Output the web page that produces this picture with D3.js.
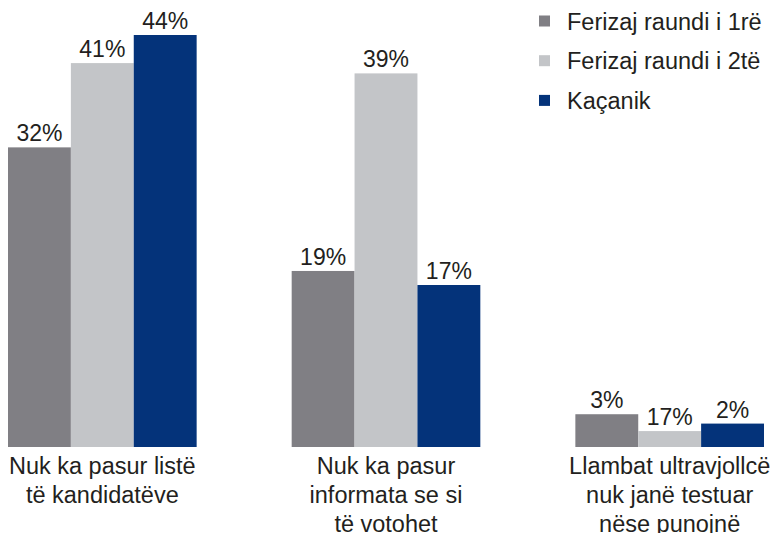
<!DOCTYPE html>
<html>
<head>
<meta charset="utf-8">
<script src="https://cdn.jsdelivr.net/npm/d3@7"></script>
<style>
  body { margin: 0; background: #fff; }
  text { font-family: "Liberation Sans", Arial, sans-serif; fill: #231f20; }
</style>
</head>
<body>
<div class="canvas"></div>
<script>
//DATA
var categories = [
    ['Nuk ka pasur listë', 'të kandidatëve'],
    ['Nuk ka pasur', 'informata se si', 'të votohet'],
    ['Llambat ultravjollcë', 'nuk janë testuar', 'nëse punojnë']
];
var series = ['Ferizaj raundi i 1rë', 'Ferizaj raundi i 2të', 'Kaçanik'];
// bar heights as drawn in the picture (percent)
var ferizaj1 = [32, 18.8, 3.5];
var ferizaj2 = [41, 39.9, 1.7];
var kacanik = [44, 17.3, 2.5];
// printed value labels
var labels1 = ['32%', '19%', '3%'];
var labels2 = ['41%', '39%', '17%'];
var labels3 = ['44%', '17%', '2%'];
var colors = ['#807f84', '#c3c5c8', '#04337a'];

//VIZ DIMENSIONS
var w = 777;
var h = 533;
var baseline = 447;

var svg = d3.select('.canvas').append('svg')
    .attr('width', w)
    .attr('height', h);

var rows = [
    { vals: ferizaj1, labs: labels1 },
    { vals: ferizaj2, labs: labels2 },
    { vals: kacanik, labs: labels3 }
];

var x0 = d3.scaleBand()
    .domain(d3.range(categories.length))
    .range([8, 764])
    .paddingInner(0.335)
    .paddingOuter(0);

var x1 = d3.scaleBand()
    .domain(d3.range(series.length))
    .range([0, x0.bandwidth()]);

var y = d3.scaleLinear()
    .domain([0, 44])
    .range([baseline, 35]);

//BARS
var groups = svg.selectAll('.grp')
    .data(categories)
    .enter().append('g')
        .attr('class', 'grp')
        .attr('transform', (d, i) => 'translate(' + x0(i) + ',0)');

groups.each(function(c, ci) {
    var g = d3.select(this);
    var bars = rows.map((r, si) => ({ s: si, v: r.vals[ci], lab: r.labs[ci] }));

    g.selectAll('rect')
        .data(bars)
        .enter().append('rect')
            .attr('x', d => x1(d.s))
            .attr('y', d => y(d.v))
            .attr('width', x1.bandwidth())
            .attr('height', d => baseline - y(d.v))
            .attr('fill', d => colors[d.s]);

    g.selectAll('.val')
        .data(bars)
        .enter().append('text')
            .attr('class', 'val')
            .attr('x', d => x1(d.s) + x1.bandwidth() / 2)
            .attr('y', d => y(d.v) - 6)
            .attr('text-anchor', 'middle')
            .style('font-size', '23px')
            .text(d => d.lab);

    g.selectAll('.cat')
        .data(c)
        .enter().append('text')
            .attr('class', 'cat')
            .attr('x', x0.bandwidth() / 2)
            .attr('y', (d, i) => 474 + i * 29)
            .attr('text-anchor', 'middle')
            .style('font-size', '23.5px')
            .text(d => d);
});

//LEGEND
var legend = svg.selectAll('.legend')
    .data(series)
    .enter().append('g')
        .attr('class', 'legend')
        .attr('transform', (d, i) => 'translate(539,' + (21 + i * 39.7) + ')');

legend.append('rect')
    .attr('x', 0)
    .attr('y', -5.5)
    .attr('width', 11)
    .attr('height', 11)
    .attr('fill', (d, i) => colors[i]);

legend.append('text')
    .attr('x', 28)
    .attr('y', 8.5)
    .style('font-size', '23.5px')
    .text(d => d);
</script>
</body>
</html>
